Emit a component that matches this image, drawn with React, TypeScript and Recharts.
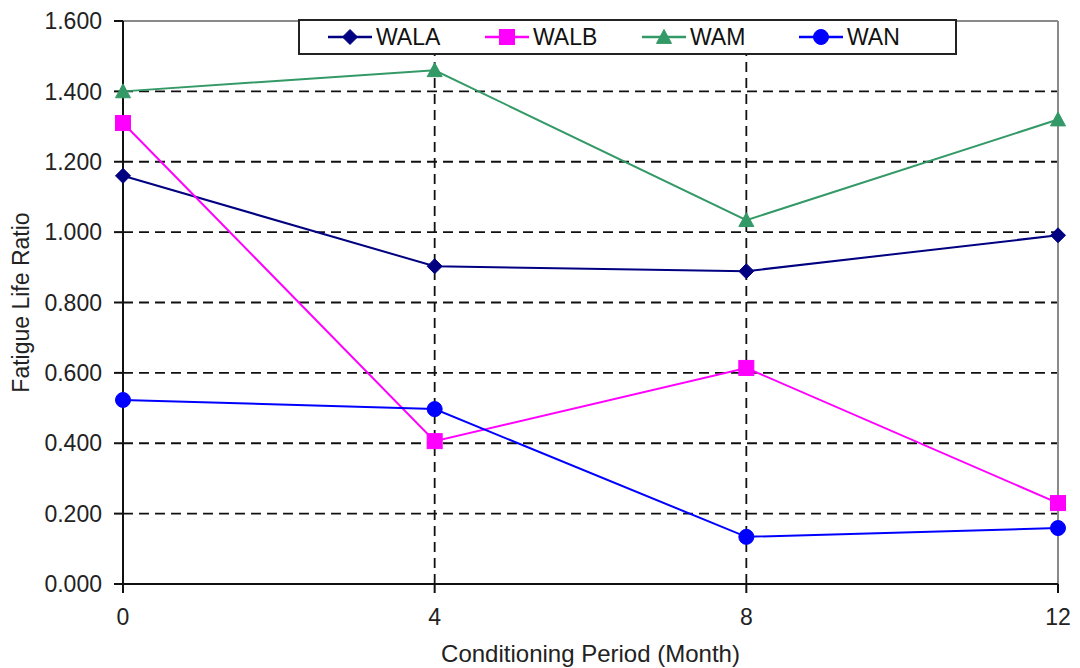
import React from 'react';
import { LineChart, Line, XAxis, YAxis, ReferenceLine } from 'recharts';

const months = [0, 4, 8, 12];
const walaValues = [1.16, 0.903, 0.889, 0.991];
const walbValues = [1.31, 0.406, 0.614, 0.23];
const wamValues = [1.4, 1.46, 1.034, 1.32];
const wanValues = [0.523, 0.497, 0.134, 0.159];
const yTicks = [0, 0.2, 0.4, 0.6, 0.8, 1.0, 1.2, 1.4, 1.6];
const xTicks = [0, 4, 8, 12];
const seriesNames = ['WALA', 'WALB', 'WAM', 'WAN'];
const seriesColors = ['#000080', '#FF00FF', '#339966', '#0000FF'];
const seriesShapes = ['diamond', 'square', 'triangle', 'circle'];

const data = months.map((m, i) => ({
  month: m,
  WALA: walaValues[i],
  WALB: walbValues[i],
  WAM: wamValues[i],
  WAN: wanValues[i],
}));

const FONT = '"Liberation Sans", Arial, sans-serif';

function Marker({ cx, cy, shape, color }: { cx: number; cy: number; shape: string; color: string }) {
  if (cx == null || cy == null) return null;
  if (shape === 'diamond') {
    const r = 7.5;
    return <polygon points={`${cx},${cy - r} ${cx + r},${cy} ${cx},${cy + r} ${cx - r},${cy}`} fill={color} stroke={color} />;
  }
  if (shape === 'square') {
    const s = 7.5;
    return <rect x={cx - s} y={cy - s} width={2 * s} height={2 * s} fill={color} stroke={color} />;
  }
  if (shape === 'triangle') {
    const h = 7.5;
    return <polygon points={`${cx},${cy - h} ${cx + h},${cy + h * 0.85} ${cx - h},${cy + h * 0.85}`} fill={color} stroke={color} />;
  }
  return <circle cx={cx} cy={cy} r={7.5} fill={color} stroke={color} />;
}

const makeDot = (shape: string, color: string) => (props: any) => (
  <Marker key={`${shape}-${props.index}`} cx={props.cx} cy={props.cy} shape={shape} color={color} />
);

function LegendBox() {
  return (
    <div
      style={{
        position: 'absolute',
        left: 298,
        top: 19,
        width: 659,
        height: 36,
        boxSizing: 'border-box',
        border: '2px solid #222',
        background: '#fff',
        display: 'flex',
        alignItems: 'center',
        paddingLeft: 27,
        fontFamily: FONT,
        fontSize: 23,
        color: '#111',
      }}
    >
      {seriesNames.map((name, i) => (
        <div key={name} style={{ width: 168, display: 'flex', alignItems: 'center' }}>
          <svg width={46} height={20} style={{ display: 'block' }}>
            <line x1={1} y1={10} x2={45} y2={10} stroke={seriesColors[i]} strokeWidth={2.5} />
            <Marker cx={23} cy={10} shape={seriesShapes[i]} color={seriesColors[i]} />
          </svg>
          <span style={{ marginLeft: 3 }}>{name}</span>
        </div>
      ))}
    </div>
  );
}

export default function App() {
  return (
    <div style={{ position: 'absolute', left: 0, top: 0, width: 1080, height: 668, background: '#fff' }}>
      <LineChart width={1080} height={668} data={data} margin={{ top: 21, right: 22, bottom: 0, left: 0 }}>
        <XAxis
          dataKey="month"
          type="number"
          domain={[0, 12]}
          ticks={xTicks}
          height={84}
          axisLine={{ stroke: '#111', strokeWidth: 2 }}
          tickLine={{ stroke: '#111', strokeWidth: 2 }}
          tickSize={9}
          tickMargin={16}
          tick={{ fill: '#222', fontSize: 23, fontFamily: FONT }}
          label={{ value: 'Conditioning Period (Month)', position: 'insideBottom', offset: 6, fill: '#222', fontSize: 24, fontFamily: FONT }}
        />
        <YAxis
          type="number"
          domain={[0, 1.6]}
          ticks={yTicks}
          width={123}
          interval={0}
          axisLine={{ stroke: '#111', strokeWidth: 2 }}
          tickLine={{ stroke: '#111', strokeWidth: 2 }}
          tickSize={9}
          tickMargin={12}
          tickFormatter={(v: number) => v.toFixed(3)}
          tick={{ fill: '#222', fontSize: 23, fontFamily: FONT }}
          label={{ value: 'Fatigue Life Ratio', angle: -90, position: 'insideLeft', offset: 21, fill: '#222', fontSize: 23, fontFamily: FONT, style: { textAnchor: 'middle' } }}
        />
        {yTicks.filter((v) => v > 0 && v < 1.6).map((v) => (
          <ReferenceLine key={`h${v}`} y={v} stroke="#111" strokeWidth={1.8} strokeDasharray="10 6" />
        ))}
        {xTicks.filter((v) => v > 0 && v < 12).map((v) => (
          <ReferenceLine key={`v${v}`} x={v} stroke="#111" strokeWidth={1.8} strokeDasharray="10 6" />
        ))}
        <ReferenceLine y={1.6} stroke="#8a8a8a" strokeWidth={2} />
        <ReferenceLine x={12} stroke="#8a8a8a" strokeWidth={2} />
        {seriesNames.map((name, i) => (
          <Line
            key={name}
            type="linear"
            dataKey={name}
            stroke={seriesColors[i]}
            strokeWidth={2}
            dot={makeDot(seriesShapes[i], seriesColors[i])}
            activeDot={false}
            isAnimationActive={false}
          />
        ))}
      </LineChart>
      <LegendBox />
    </div>
  );
}
